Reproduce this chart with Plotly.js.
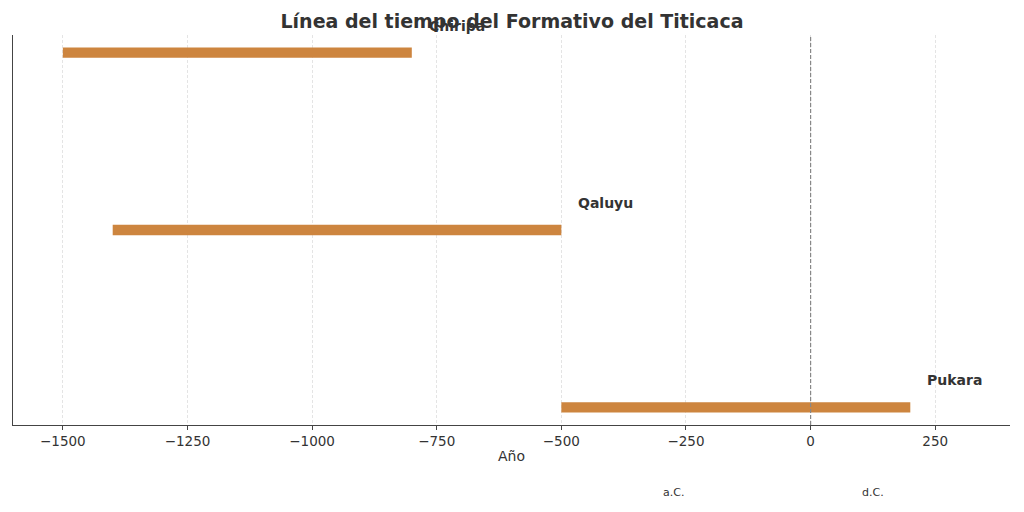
<!DOCTYPE html>
<html><head><meta charset="utf-8">
<script src="https://cdn.plot.ly/plotly-3.0.1.min.js"></script>
<style>html,body{margin:0;padding:0;background:#fff}#chart{width:1024px;height:512px}</style>
</head><body><div id="chart"></div>
<script>
const periods = ["Pukara", "Qaluyu", "Chiripa"];
const starts = [-500, -1400, -1500];
const ends = [200, -500, -800];
const eraLabels = ["a.C.", "d.C."];
const eraX = [-300, 100];

const ypos = periods.map((_, i) => i);
const durations = ends.map((e, i) => e - starts[i]);

const trace = {
  type: 'bar', orientation: 'h',
  y: ypos, x: durations, base: starts,
  width: 0.058,
  marker: {color: '#CD853F', line: {width: 0}},
  hoverinfo: 'skip'
};

const annotations = periods.map((p, i) => ({
  x: ends[i] + 30, y: ypos[i], yshift: 27, xref: 'x', yref: 'y',
  text: '<b>' + p + '</b>', showarrow: false, xanchor: 'left', yanchor: 'middle',
  font: {family: 'DejaVu Sans', size: 14, color: '#333333'}
}));
eraLabels.forEach((t, i) => annotations.push({
  x: eraX[i], y: -0.172, xref: 'x', yref: 'paper', text: t, showarrow: false,
  xanchor: 'left', yanchor: 'middle',
  font: {family: 'DejaVu Sans', size: 11, color: '#333333'}
}));

const layout = {
  width: 1024, height: 512,
  margin: {l: 13, r: 14, t: 35, b: 87},
  paper_bgcolor: '#fff', plot_bgcolor: '#fff',
  showlegend: false,
  title: {text: '<b>Línea del tiempo del Formativo del Titicaca</b>', x: 0.5, xanchor: 'center', y: 0.958, yanchor: 'middle',
    font: {family: 'DejaVu Sans', size: 19, color: '#333333'}},
  xaxis: {
    range: [-1600, 400], tickvals: [-1500, -1250, -1000, -750, -500, -250, 0, 250],
    ticktext: ['−1500', '−1250', '−1000', '−750', '−500', '−250', '0', '250'],
    showgrid: true, gridcolor: '#dddddd', griddash: '3px,2px', gridwidth: 0.8,
    zeroline: false, showline: true, linecolor: '#444', linewidth: 1.2,
    ticks: 'outside', ticklen: 4, tickcolor: '#444',
    tickfont: {family: 'DejaVu Sans', size: 13.5, color: '#333333'},
    title: {text: 'Año', font: {family: 'DejaVu Sans', size: 14, color: '#333333'}, standoff: 2}
  },
  yaxis: {
    range: [-0.1, 2.1], showticklabels: false, ticks: '', showgrid: false, zeroline: false,
    showline: true, linecolor: '#444', linewidth: 1.2
  },
  shapes: [{type: 'line', xref: 'x', yref: 'paper', x0: 0, x1: 0, y0: 0, y1: 1,
    line: {color: '#888', width: 1.2, dash: '4px,2px'}}],
  annotations: annotations
};
Plotly.newPlot('chart', [trace], layout, {displayModeBar: false, staticPlot: true});
</script></body></html>
